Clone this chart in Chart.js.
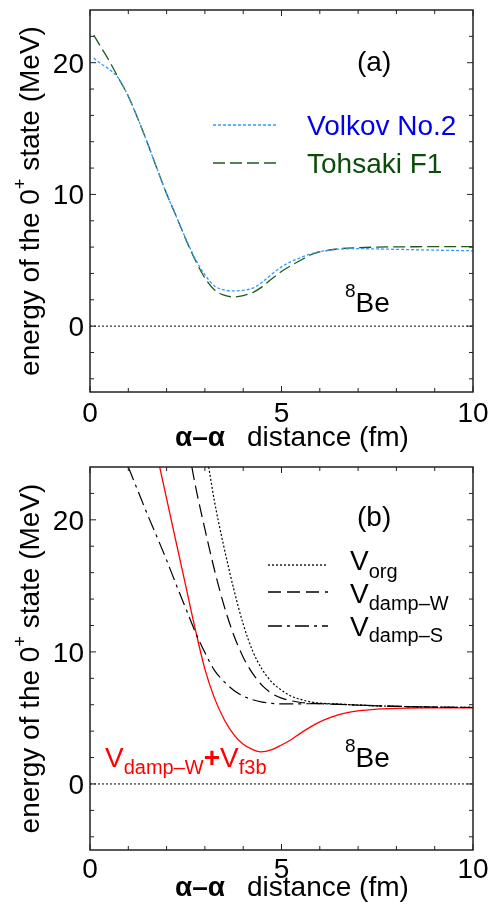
<!DOCTYPE html>
<html>
<head>
<meta charset="utf-8">
<script src="https://cdn.jsdelivr.net/npm/chart.js@4.4.0/dist/chart.umd.min.js"></script>
<style>
  html, body { margin: 0; padding: 0; background: #fff; }
  .panel { position: relative; width: 494px; }
  #boxA { height: 455px; }
  #boxB { height: 454px; }
</style>
</head>
<body>
<div class="panel" id="boxA"><canvas id="chartA"></canvas></div>
<div class="panel" id="boxB"><canvas id="chartB"></canvas></div>
<script>
// panel (a): alpha-alpha distance grid and the two energy curves
const distA = [0.1, 0.25, 0.5, 0.75, 1, 1.25, 1.5, 1.75, 2, 2.25, 2.5, 2.75, 3, 3.25, 3.5, 3.75,
               4, 4.25, 4.5, 4.75, 5, 5.25, 5.5, 5.75, 6, 6.5, 7, 7.5, 8, 9, 10];
const volkovNo2 = [20.35, 20.0, 19.5, 18.8, 17.45, 15.75, 13.9, 11.95, 10.05, 8.35, 6.65, 5.1, 3.9, 3.05, 2.75, 2.67,
                   2.72, 2.88, 3.35, 3.95, 4.5, 4.9, 5.2, 5.48, 5.66, 5.84, 5.88, 5.86, 5.83, 5.77, 5.72];
const tohsakiF1 = [22.1, 21.35, 20.15, 18.8, 17.45, 15.75, 13.9, 11.95, 10.05, 8.35, 6.6, 5.0, 3.65, 2.75, 2.35, 2.22,
                   2.32, 2.55, 3.0, 3.6, 4.15, 4.6, 5.0, 5.4, 5.63, 5.87, 5.96, 6.0, 6.02, 6.03, 6.03];

// panel (b): each curve has its own x grid (they leave the top of the frame at different distances)
const orgX = [3.1, 3.25, 3.5, 3.75, 4, 4.25, 4.5, 4.75, 5, 5.25, 5.5, 5.75, 6, 6.5, 7, 7.5, 8, 9, 10];
const vOrg = [24, 21.4, 17.9, 14.8, 12.1, 10.05, 8.65, 7.7, 7.1, 6.65, 6.4, 6.22, 6.12, 6.05, 5.97, 5.92, 5.88, 5.82, 5.79];
const dampWX = [2.66, 2.75, 3, 3.25, 3.5, 3.75, 4, 4.25, 4.5, 4.75, 5, 5.25, 5.5, 6, 6.5, 7, 7.5, 8, 9, 10];
const vDampW = [24, 22.6, 19.3, 16.2, 13.5, 11.3, 9.6, 8.35, 7.45, 6.85, 6.5, 6.3, 6.17, 6.08, 6.03, 5.97, 5.92, 5.88, 5.82, 5.79];
const dampSX = [1, 1.25, 1.5, 1.75, 2, 2.25, 2.5, 2.75, 3, 3.25, 3.5, 3.75, 4, 4.25, 4.5, 4.75, 5, 5.5, 6, 6.5, 7, 7.5, 8, 9, 10];
const vDampS = [24, 22.2, 20.4, 18.7, 16.95, 15.1, 13.3, 11.5, 9.95, 8.6, 7.75, 7.1, 6.65, 6.38, 6.2, 6.1, 6.06, 6.07, 6.08, 6.03, 5.97, 5.92, 5.88, 5.82, 5.79];
const f3bX = [1.82, 2, 2.25, 2.5, 2.75, 3, 3.25, 3.5, 3.75, 4, 4.25, 4.45, 4.75, 5, 5.25, 5.5, 5.75, 6, 6.25, 6.5, 7, 7.5, 8, 9, 10];
const vF3b = [24, 21.6, 18.3, 15.0, 11.7, 8.7, 6.5, 4.9, 3.75, 3.0, 2.6, 2.43, 2.6, 2.95, 3.35, 3.85, 4.3, 4.7, 5.0, 5.25, 5.53, 5.67, 5.73, 5.76, 5.77];

// zero reference line
const zeroX = [0, 10];
const zeroY = [0, 0];

// ticks
const xTickLabels = [0, 5, 10];
const xMinorTicks = [0, 1, 2, 3, 4, 5, 6, 7, 8, 9, 10];
const yTickLabels = [0, 10, 20];
const yMinorTicks = [-4, -2, 0, 2, 4, 6, 8, 10, 12, 14, 16, 18, 20, 22];

const FONT = "'Liberation Sans', Arial, Helvetica, sans-serif";

function pts(xs, ys) {
    return xs.map((v, i) => ({ x: v, y: ys[i] }));
}

function setFont(ctx, r) {
    ctx.font = (r.bold ? 'bold ' : '') + r.size + 'px ' + FONT;
}

function runsWidth(ctx, runs) {
    let w = 0;
    runs.forEach(r => { setFont(ctx, r); w += ctx.measureText(r.t).width; });
    return w;
}

function drawRuns(ctx, x, y, runs, color) {
    let cx = x;
    ctx.textAlign = 'left';
    ctx.textBaseline = 'alphabetic';
    runs.forEach(r => {
        setFont(ctx, r);
        ctx.fillStyle = r.color || color || '#000';
        ctx.fillText(r.t, cx, y + (r.dy || 0));
        cx += ctx.measureText(r.t).width;
    });
    return cx;
}

function seg(ctx, x0, y0, x1, y1) {
    ctx.beginPath();
    ctx.moveTo(x0, y0);
    ctx.lineTo(x1, y1);
    ctx.stroke();
}

// frame, inward ticks on all sides, tick labels, axis titles, legend and notes
const decorPlugin = {
    id: 'decor',
    afterDraw(chart, args, opts) {
        const { ctx, chartArea: a, scales: { x, y } } = chart;
        ctx.save();

        ctx.strokeStyle = '#222';
        ctx.lineWidth = 1;
        ctx.setLineDash([]);
        xMinorTicks.forEach(v => {
            const px = x.getPixelForValue(v);
            const len = xTickLabels.includes(v) ? 6 : 4;
            seg(ctx, px, a.bottom, px, a.bottom - len);
            seg(ctx, px, a.top, px, a.top + len);
        });
        yMinorTicks.forEach(v => {
            const py = y.getPixelForValue(v);
            const len = yTickLabels.includes(v) ? 6 : 4;
            seg(ctx, a.left, py, a.left + len, py);
            seg(ctx, a.right, py, a.right - len, py);
        });
        ctx.lineWidth = 1.5;
        ctx.strokeRect(a.left, a.top, a.right - a.left, a.bottom - a.top);

        // tick labels
        ctx.fillStyle = '#000';
        ctx.font = '28px ' + FONT;
        ctx.textAlign = 'center';
        ctx.textBaseline = 'alphabetic';
        xTickLabels.forEach(v => ctx.fillText(String(v), x.getPixelForValue(v), a.bottom + opts.xLabelGap));
        ctx.textAlign = 'right';
        yTickLabels.forEach(v => ctx.fillText(String(v), a.left - 6, y.getPixelForValue(v) + 10));

        // x title
        drawRuns(ctx, 175, opts.xTitleY, [{ t: 'α–α', size: 28, bold: true }]);
        drawRuns(ctx, 247, opts.xTitleY, [{ t: 'distance (fm)', size: 28 }]);

        // y title, rotated
        const yRuns = [
            { t: 'energy of the 0', size: 28 },
            { t: '+', size: 18, dy: -13 },
            { t: ' state (MeV)', size: 28 }
        ];
        const w = runsWidth(ctx, yRuns);
        ctx.save();
        ctx.translate(39, (a.top + a.bottom) / 2);
        ctx.rotate(-Math.PI / 2);
        drawRuns(ctx, -w / 2, 0, yRuns);
        ctx.restore();

        // legend samples
        opts.samples.forEach(s => {
            ctx.strokeStyle = s.color;
            ctx.lineWidth = 1.3;
            ctx.setLineDash(s.dash);
            seg(ctx, s.x0, s.y, s.x1, s.y);
        });
        ctx.setLineDash([]);

        // text notes
        opts.notes.forEach(n => drawRuns(ctx, n.x, n.y, n.runs, n.color));

        ctx.restore();
    }
};

function scalesFor(xH) {
    return {
        x: {
            type: 'linear', min: 0, max: 10,
            ticks: { display: false },
            grid: { display: false, drawTicks: false },
            border: { display: false },
            afterFit: s => { s.height = xH; }
        },
        y: {
            min: -5, max: 24,
            ticks: { display: false },
            grid: { display: false, drawTicks: false },
            border: { display: false },
            afterFit: s => { s.width = 90; }
        }
    };
}

function lineSet(data, color, dash, width) {
    return {
        data: data,
        borderColor: color,
        borderWidth: width || 1.3,
        borderDash: dash,
        pointRadius: 0,
        fill: false,
        cubicInterpolationMode: 'monotone'
    };
}

const blue = '#3399ff';
const green = '#1c5a1c';

new Chart(document.getElementById('chartA').getContext('2d'), {
    type: 'line',
    data: {
        datasets: [
            lineSet(pts(zeroX, zeroY), '#000', [2, 2], 1),
            lineSet(pts(distA, volkovNo2), blue, [3, 2]),
            lineSet(pts(distA, tohsakiF1), green, [12, 5])
        ]
    },
    options: {
        responsive: true,
        maintainAspectRatio: false,
        animation: false,
        layout: { padding: { top: 10, right: 21, bottom: 0, left: 0 } },
        scales: scalesFor(63),
        plugins: {
            legend: { display: false },
            tooltip: { enabled: false },
            decor: {
                xLabelGap: 30,
                xTitleY: 446,
                samples: [
                    { x0: 213, x1: 277, y: 125, color: blue, dash: [3, 2] },
                    { x0: 213, x1: 277, y: 163, color: green, dash: [12, 5] }
                ],
                notes: [
                    { x: 357, y: 71, runs: [{ t: '(a)', size: 28 }] },
                    { x: 307, y: 135, color: '#0000ee', runs: [{ t: 'Volkov No.2', size: 28 }] },
                    { x: 307, y: 173, color: '#0a4d0a', runs: [{ t: 'Tohsaki F1', size: 28 }] },
                    { x: 345, y: 312, runs: [{ t: '8', size: 19, dy: -15 }, { t: 'Be', size: 28 }] }
                ]
            }
        }
    },
    plugins: [decorPlugin]
});

new Chart(document.getElementById('chartB').getContext('2d'), {
    type: 'line',
    data: {
        datasets: [
            lineSet(pts(zeroX, zeroY), '#000', [2, 2], 1),
            lineSet(pts(orgX, vOrg), '#000', [2, 2], 1.2),
            lineSet(pts(dampWX, vDampW), '#000', [13, 6], 1.2),
            lineSet(pts(dampSX, vDampS), '#000', [14, 5, 3, 5], 1.2),
            lineSet(pts(f3bX, vF3b), '#ff0000', [], 1.3)
        ]
    },
    options: {
        responsive: true,
        maintainAspectRatio: false,
        animation: false,
        layout: { padding: { top: 12, right: 21, bottom: 0, left: 0 } },
        scales: scalesFor(59),
        plugins: {
            legend: { display: false },
            tooltip: { enabled: false },
            decor: {
                xLabelGap: 28,
                xTitleY: 441,
                samples: [
                    { x0: 268, x1: 328, y: 110, color: '#000', dash: [2, 2] },
                    { x0: 268, x1: 328, y: 137, color: '#000', dash: [13, 6] },
                    { x0: 268, x1: 328, y: 171, color: '#000', dash: [14, 5, 3, 5] }
                ],
                notes: [
                    { x: 357, y: 71, runs: [{ t: '(b)', size: 28 }] },
                    { x: 350, y: 115, runs: [{ t: 'V', size: 28 }, { t: 'org', size: 20, dy: 8 }] },
                    { x: 350, y: 148, runs: [{ t: 'V', size: 28 }, { t: 'damp–W', size: 20, dy: 7 }] },
                    { x: 350, y: 181, runs: [{ t: 'V', size: 28 }, { t: 'damp–S', size: 20, dy: 6 }] },
                    { x: 345, y: 312, runs: [{ t: '8', size: 19, dy: -15 }, { t: 'Be', size: 28 }] },
                    { x: 105, y: 312, color: '#ff0000', runs: [
                        { t: 'V', size: 28 },
                        { t: 'damp–W', size: 20, dy: 7 },
                        { t: '+', size: 28, bold: true },
                        { t: 'V', size: 28 },
                        { t: 'f3b', size: 20, dy: 7 }
                    ] }
                ]
            }
        }
    },
    plugins: [decorPlugin]
});
</script>
</body>
</html>
